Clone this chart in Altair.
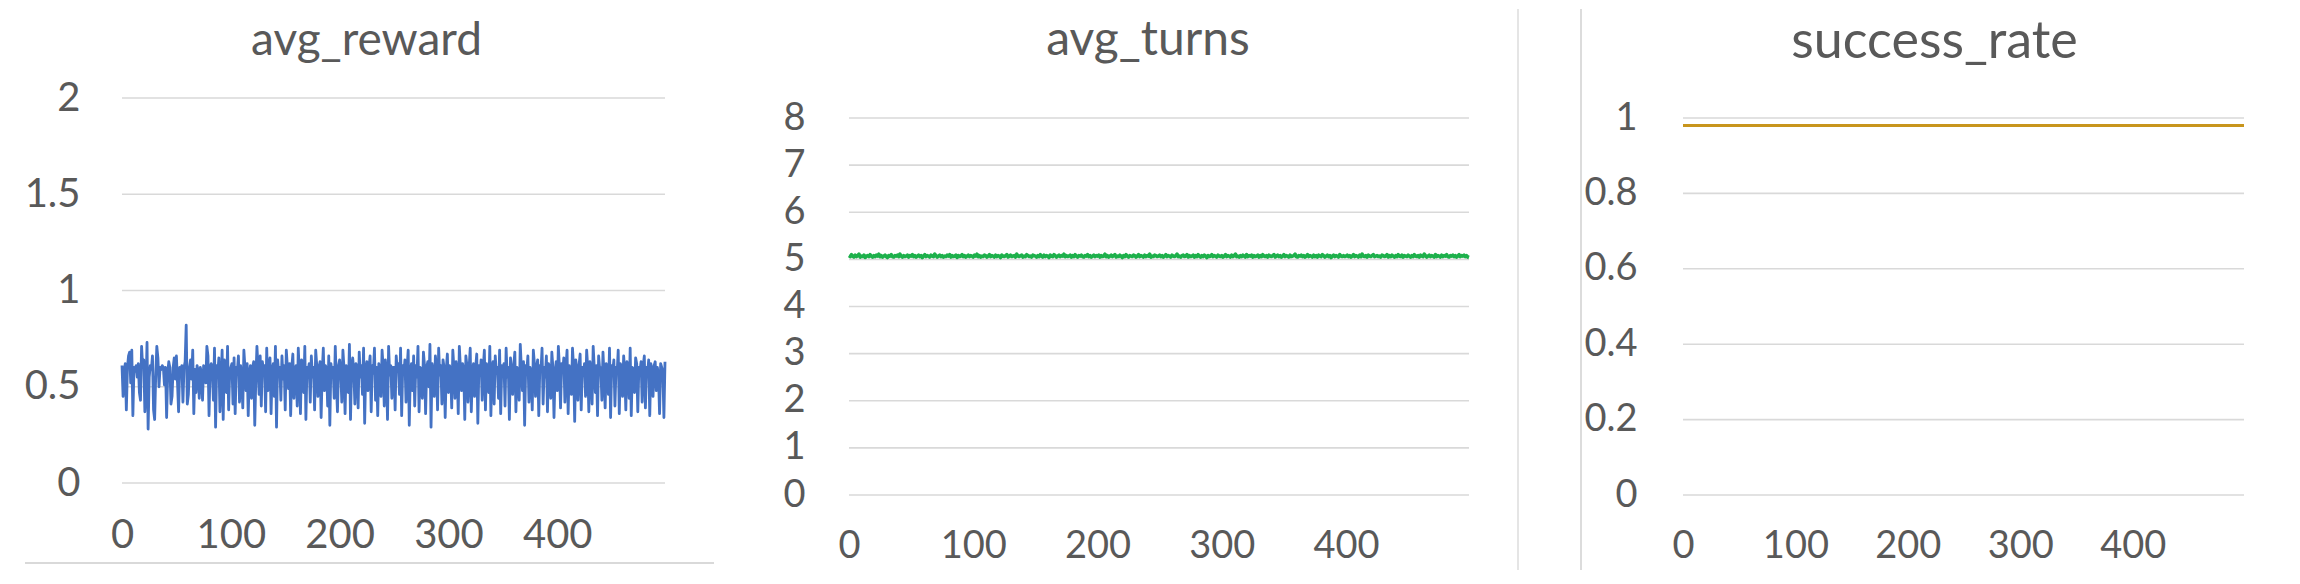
import altair as alt
import pandas as pd

# ---------------- data ----------------
avg_reward = [
    0.61,0.45,0.58,0.62,0.38,0.60,0.66,0.68,0.52,0.69,0.35,0.60,0.58,0.61,0.55,0.62,0.47,0.43,0.71,0.60,0.64,0.37,0.48,0.73,0.28,
    0.55,0.61,0.59,0.66,0.38,0.33,0.56,0.71,0.65,0.50,0.60,0.59,0.61,0.60,0.51,0.60,0.34,0.57,0.63,0.60,0.41,0.45,0.60,0.65,0.54,
    0.66,0.52,0.37,0.60,0.58,0.61,0.42,0.60,0.63,0.82,0.41,0.46,0.60,0.64,0.54,0.69,0.36,0.59,0.47,0.61,0.58,0.44,0.60,0.57,0.43,
    0.61,0.60,0.52,0.71,0.66,0.35,0.60,0.62,0.58,0.43,0.70,0.29,0.61,0.56,0.65,0.37,0.52,0.69,0.33,0.64,0.60,0.47,0.71,0.38,0.58,
    0.60,0.62,0.41,0.65,0.36,0.60,0.58,0.66,0.42,0.61,0.55,0.39,0.69,0.60,0.48,0.62,0.35,0.57,0.61,0.44,0.60,0.63,0.30,0.54,0.71,
    0.60,0.46,0.66,0.40,0.63,0.58,0.61,0.37,0.70,0.48,0.60,0.65,0.36,0.59,0.62,0.45,0.71,0.29,0.64,0.57,0.60,0.43,0.66,0.54,0.61,
    0.38,0.69,0.60,0.49,0.62,0.35,0.60,0.67,0.44,0.58,0.61,0.40,0.70,0.56,0.36,0.64,0.60,0.47,0.71,0.33,0.60,0.58,0.62,0.42,0.66,
    0.55,0.60,0.38,0.69,0.61,0.45,0.60,0.63,0.34,0.58,0.70,0.48,0.61,0.59,0.40,0.66,0.30,0.62,0.57,0.60,0.44,0.71,0.52,0.37,0.61,
    0.64,0.58,0.42,0.69,0.60,0.36,0.61,0.56,0.47,0.72,0.33,0.60,0.65,0.58,0.41,0.62,0.60,0.39,0.68,0.55,0.61,0.46,0.70,0.31,0.59,
    0.63,0.48,0.60,0.66,0.37,0.61,0.57,0.70,0.43,0.60,0.35,0.62,0.59,0.45,0.69,0.60,0.40,0.64,0.58,0.33,0.71,0.56,0.61,0.44,0.60,
    0.60,0.38,0.66,0.58,0.62,0.46,0.70,0.35,0.61,0.57,0.64,0.42,0.60,0.69,0.30,0.58,0.62,0.48,0.66,0.40,0.61,0.55,0.71,0.37,0.60,
    0.59,0.44,0.68,0.61,0.36,0.60,0.63,0.50,0.72,0.29,0.62,0.58,0.45,0.66,0.60,0.38,0.70,0.56,0.61,0.41,0.64,0.60,0.34,0.59,0.67,
    0.47,0.61,0.58,0.39,0.69,0.60,0.44,0.63,0.57,0.36,0.71,0.60,0.48,0.62,0.59,0.33,0.66,0.61,0.42,0.60,0.70,0.37,0.58,0.62,0.45,
    0.60,0.67,0.31,0.61,0.56,0.64,0.43,0.60,0.69,0.38,0.62,0.58,0.47,0.71,0.35,0.60,0.63,0.41,0.66,0.57,0.60,0.44,0.69,0.36,0.61,
    0.58,0.62,0.40,0.70,0.55,0.60,0.33,0.65,0.59,0.46,0.61,0.68,0.37,0.60,0.57,0.43,0.72,0.60,0.48,0.63,0.30,0.61,0.58,0.66,0.42,
    0.60,0.57,0.38,0.69,0.62,0.45,0.60,0.64,0.35,0.61,0.58,0.70,0.41,0.60,0.55,0.66,0.37,0.62,0.59,0.44,0.68,0.60,0.34,0.57,0.63,
    0.48,0.71,0.60,0.39,0.62,0.58,0.65,0.42,0.60,0.69,0.36,0.61,0.57,0.46,0.70,0.60,0.32,0.64,0.59,0.43,0.61,0.67,0.38,0.60,0.56,
    0.62,0.45,0.69,0.60,0.37,0.63,0.58,0.41,0.71,0.60,0.47,0.61,0.35,0.66,0.59,0.60,0.43,0.68,0.56,0.39,0.62,0.60,0.46,0.70,0.34,
    0.61,0.58,0.64,0.40,0.60,0.57,0.69,0.36,0.62,0.60,0.45,0.66,0.58,0.38,0.63,0.61,0.44,0.70,0.35,0.60,0.59,0.47,0.65,0.62,0.37,
    0.60,0.58,0.63,0.42,0.61,0.66,0.39,0.60,0.57,0.64,0.35,0.62,0.59,0.45,0.61,0.63,0.48,0.60,0.56,0.36,0.62,0.60,0.58,0.34,0.63,
]

avg_turns = [
    5.08,5.06,5.10,5.07,5.05,5.09,5.06,5.08,5.11,5.05,5.07,5.06,5.09,5.04,5.07,5.08,5.06,5.10,5.07,5.05,5.08,5.06,5.09,5.07,5.11,
    5.06,5.08,5.05,5.07,5.09,5.06,5.04,5.08,5.07,5.10,5.06,5.05,5.08,5.07,5.09,5.06,5.11,5.07,5.05,5.08,5.06,5.07,5.09,5.05,5.08,
    5.07,5.10,5.06,5.08,5.05,5.07,5.09,5.06,5.08,5.04,5.07,5.10,5.06,5.08,5.07,5.05,5.09,5.07,5.06,5.11,5.08,5.05,5.07,5.09,5.06,
    5.08,5.05,5.07,5.06,5.09,5.07,5.10,5.05,5.08,5.06,5.07,5.09,5.04,5.08,5.06,5.07,5.10,5.06,5.08,5.05,5.07,5.09,5.06,5.08,5.07,
    5.05,5.09,5.07,5.11,5.06,5.08,5.05,5.07,5.06,5.09,5.08,5.05,5.07,5.10,5.06,5.08,5.07,5.05,5.09,5.06,5.08,5.07,5.04,5.09,5.07,
    5.06,5.08,5.10,5.05,5.07,5.09,5.06,5.07,5.08,5.05,5.11,5.07,5.06,5.08,5.09,5.05,5.07,5.06,5.10,5.08,5.06,5.07,5.05,5.09,5.08,
    5.07,5.05,5.08,5.06,5.10,5.07,5.05,5.09,5.06,5.08,5.07,5.04,5.09,5.07,5.06,5.10,5.08,5.05,5.07,5.09,5.06,5.08,5.07,5.11,5.06,
    5.08,5.06,5.07,5.09,5.05,5.08,5.06,5.10,5.07,5.05,5.08,5.07,5.09,5.06,5.05,5.08,5.07,5.10,5.06,5.08,5.05,5.07,5.09,5.06,5.08,
    5.07,5.09,5.05,5.08,5.06,5.07,5.11,5.06,5.08,5.05,5.07,5.09,5.06,5.08,5.10,5.05,5.07,5.06,5.09,5.07,5.04,5.08,5.06,5.10,5.07,
    5.05,5.08,5.07,5.06,5.09,5.08,5.05,5.07,5.10,5.06,5.08,5.07,5.05,5.09,5.06,5.08,5.07,5.11,5.05,5.07,5.06,5.09,5.08,5.06,5.07,
    5.09,5.06,5.08,5.05,5.07,5.10,5.06,5.08,5.07,5.05,5.09,5.07,5.06,5.08,5.11,5.06,5.07,5.05,5.08,5.09,5.06,5.07,5.10,5.05,5.08,
    5.06,5.07,5.09,5.05,5.08,5.06,5.10,5.07,5.05,5.08,5.06,5.09,5.07,5.04,5.08,5.06,5.07,5.10,5.06,5.08,5.07,5.05,5.09,5.07,5.06,
    5.08,5.05,5.07,5.10,5.06,5.08,5.07,5.05,5.09,5.06,5.08,5.11,5.06,5.07,5.05,5.08,5.06,5.09,5.07,5.05,5.10,5.06,5.08,5.07,5.09,
    5.05,5.08,5.06,5.07,5.09,5.05,5.08,5.06,5.10,5.07,5.06,5.08,5.05,5.09,5.07,5.06,5.08,5.10,5.05,5.07,5.09,5.06,5.08,5.05,5.07,
    5.10,5.06,5.08,5.07,5.05,5.09,5.06,5.07,5.08,5.11,5.06,5.05,5.08,5.07,5.09,5.06,5.08,5.05,5.07,5.10,5.06,5.08,5.07,5.05,5.09,
    5.06,5.08,5.05,5.09,5.07,5.06,5.10,5.08,5.05,5.07,5.09,5.06,5.08,5.04,5.07,5.09,5.06,5.08,5.07,5.05,5.10,5.07,5.06,5.08,5.06,
    5.07,5.09,5.06,5.08,5.05,5.07,5.10,5.06,5.08,5.07,5.05,5.09,5.06,5.11,5.07,5.06,5.08,5.05,5.09,5.07,5.06,5.08,5.10,5.06,5.07,
    5.08,5.06,5.07,5.05,5.09,5.08,5.06,5.07,5.10,5.05,5.08,5.06,5.09,5.07,5.05,5.08,5.06,5.10,5.07,5.06,5.09,5.05,5.08,5.07,5.06,
    5.09,5.07,5.05,5.08,5.06,5.10,5.07,5.06,5.08,5.05,5.09,5.07,5.06,5.11,5.08,5.05,5.07,5.09,5.06,5.08,5.07,5.05,5.10,5.06,5.08,
    5.07,5.05,5.09,5.06,5.08,5.07,5.10,5.06,5.05,5.08,5.07,5.09,5.06,5.08,5.05,5.07,5.10,5.06,5.08,5.07,5.09,5.06,5.08,5.05,5.04,
]

success_rate = [
    0.98,0.98,0.98,0.98,0.98,0.98,0.98,0.98,0.98,0.98,0.98,0.98,0.98,0.98,0.98,0.98,0.98,0.98,0.98,0.98,0.98,0.98,0.98,0.98,0.98,
    0.98,0.98,0.98,0.98,0.98,0.98,0.98,0.98,0.98,0.98,0.98,0.98,0.98,0.98,0.98,0.98,0.98,0.98,0.98,0.98,0.98,0.98,0.98,0.98,0.98,
    0.98,0.98,0.98,0.98,0.98,0.98,0.98,0.98,0.98,0.98,0.98,0.98,0.98,0.98,0.98,0.98,0.98,0.98,0.98,0.98,0.98,0.98,0.98,0.98,0.98,
    0.98,0.98,0.98,0.98,0.98,0.98,0.98,0.98,0.98,0.98,0.98,0.98,0.98,0.98,0.98,0.98,0.98,0.98,0.98,0.98,0.98,0.98,0.98,0.98,0.98,
    0.98,0.98,0.98,0.98,0.98,0.98,0.98,0.98,0.98,0.98,0.98,0.98,0.98,0.98,0.98,0.98,0.98,0.98,0.98,0.98,0.98,0.98,0.98,0.98,0.98,
    0.98,0.98,0.98,0.98,0.98,0.98,0.98,0.98,0.98,0.98,0.98,0.98,0.98,0.98,0.98,0.98,0.98,0.98,0.98,0.98,0.98,0.98,0.98,0.98,0.98,
    0.98,0.98,0.98,0.98,0.98,0.98,0.98,0.98,0.98,0.98,0.98,0.98,0.98,0.98,0.98,0.98,0.98,0.98,0.98,0.98,0.98,0.98,0.98,0.98,0.98,
    0.98,0.98,0.98,0.98,0.98,0.98,0.98,0.98,0.98,0.98,0.98,0.98,0.98,0.98,0.98,0.98,0.98,0.98,0.98,0.98,0.98,0.98,0.98,0.98,0.98,
    0.98,0.98,0.98,0.98,0.98,0.98,0.98,0.98,0.98,0.98,0.98,0.98,0.98,0.98,0.98,0.98,0.98,0.98,0.98,0.98,0.98,0.98,0.98,0.98,0.98,
    0.98,0.98,0.98,0.98,0.98,0.98,0.98,0.98,0.98,0.98,0.98,0.98,0.98,0.98,0.98,0.98,0.98,0.98,0.98,0.98,0.98,0.98,0.98,0.98,0.98,
    0.98,0.98,0.98,0.98,0.98,0.98,0.98,0.98,0.98,0.98,0.98,0.98,0.98,0.98,0.98,0.98,0.98,0.98,0.98,0.98,0.98,0.98,0.98,0.98,0.98,
    0.98,0.98,0.98,0.98,0.98,0.98,0.98,0.98,0.98,0.98,0.98,0.98,0.98,0.98,0.98,0.98,0.98,0.98,0.98,0.98,0.98,0.98,0.98,0.98,0.98,
    0.98,0.98,0.98,0.98,0.98,0.98,0.98,0.98,0.98,0.98,0.98,0.98,0.98,0.98,0.98,0.98,0.98,0.98,0.98,0.98,0.98,0.98,0.98,0.98,0.98,
    0.98,0.98,0.98,0.98,0.98,0.98,0.98,0.98,0.98,0.98,0.98,0.98,0.98,0.98,0.98,0.98,0.98,0.98,0.98,0.98,0.98,0.98,0.98,0.98,0.98,
    0.98,0.98,0.98,0.98,0.98,0.98,0.98,0.98,0.98,0.98,0.98,0.98,0.98,0.98,0.98,0.98,0.98,0.98,0.98,0.98,0.98,0.98,0.98,0.98,0.98,
    0.98,0.98,0.98,0.98,0.98,0.98,0.98,0.98,0.98,0.98,0.98,0.98,0.98,0.98,0.98,0.98,0.98,0.98,0.98,0.98,0.98,0.98,0.98,0.98,0.98,
    0.98,0.98,0.98,0.98,0.98,0.98,0.98,0.98,0.98,0.98,0.98,0.98,0.98,0.98,0.98,0.98,0.98,0.98,0.98,0.98,0.98,0.98,0.98,0.98,0.98,
    0.98,0.98,0.98,0.98,0.98,0.98,0.98,0.98,0.98,0.98,0.98,0.98,0.98,0.98,0.98,0.98,0.98,0.98,0.98,0.98,0.98,0.98,0.98,0.98,0.98,
    0.98,0.98,0.98,0.98,0.98,0.98,0.98,0.98,0.98,0.98,0.98,0.98,0.98,0.98,0.98,0.98,0.98,0.98,0.98,0.98,0.98,0.98,0.98,0.98,0.98,
    0.98,0.98,0.98,0.98,0.98,0.98,0.98,0.98,0.98,0.98,0.98,0.98,0.98,0.98,0.98,0.98,0.98,0.98,0.98,0.98,0.98,0.98,0.98,0.98,0.98,
]

reward_ticks = [0, 0.5, 1, 1.5, 2]
turns_ticks = [0, 1, 2, 3, 4, 5, 6, 7, 8]
success_ticks = [0, 0.2, 0.4, 0.6, 0.8, 1]
x_ticks = [0, 100, 200, 300, 400]

FONT = "Lato"
TEXT = "#595959"
GRID = "#D9D9D9"
H = 397


def panel(values, name, color, ticks, ydom, yrange, xrange, cell_w, lw,
          tick_fs, y_pad, x_pad, title_fs, title_dx, title_offset, title_dy,
          extras=()):
    df = pd.DataFrame({"step": list(range(len(values))), "value": values})
    gdf = pd.DataFrame({"v": ticks})
    xs = alt.Scale(domain=[0, 499], range=xrange, nice=False, zero=False)
    ys = alt.Scale(domain=ydom, range=yrange, nice=False, zero=False)
    xaxis = alt.Axis(values=x_ticks, title=None, grid=False, domain=False,
                     ticks=False, tickSize=0, labelFontSize=tick_fs,
                     labelFont=FONT, labelColor=TEXT, labelPadding=x_pad,
                     labelFlush=False, labelOverlap=False, format="d")
    yaxis = alt.Axis(values=ticks, title=None, grid=False, domain=False,
                     ticks=False, tickSize=0, labelFontSize=tick_fs,
                     labelFont=FONT, labelColor=TEXT, labelPadding=y_pad,
                     labelFlush=False, labelOverlap=False, format="~g")
    grid = alt.Chart(gdf).mark_rule(color=GRID, strokeWidth=1.6).encode(
        y=alt.Y("v:Q", scale=ys, axis=yaxis),
        x=alt.X(datum=0, type="quantitative", scale=xs, axis=xaxis),
        x2=alt.X2(datum=499),
    )
    line = alt.Chart(df).mark_line(color=color, strokeWidth=lw,
                                   strokeJoin="round").encode(
        x=alt.X("step:Q", scale=xs, axis=xaxis),
        y=alt.Y("value:Q", scale=ys, axis=yaxis),
    )
    layers = [grid, line] + list(extras)
    return alt.layer(*layers).properties(
        width=cell_w, height=H,
        title=alt.TitleParams(text=name, font=FONT, fontSize=title_fs,
                              fontWeight="normal", color=TEXT,
                              anchor="middle", frame="group",
                              dx=title_dx, dy=title_dy, offset=title_offset),
    )


one = pd.DataFrame({"k": [0]})
# frame lines of the sheet around the charts
bottom_frame = alt.Chart(one).mark_rule(color="#D9D9D9", strokeWidth=2).encode(
    x=alt.value(-97), x2=alt.value(592), y=alt.value(465))
sep_a = alt.Chart(one).mark_rule(color="#DCDCDC", strokeWidth=1.5).encode(
    x=alt.value(669), y=alt.value(-89), y2=alt.value(472))
sep_b = alt.Chart(one).mark_rule(color="#D0D0D0", strokeWidth=1.5).encode(
    x=alt.value(732), y=alt.value(-89), y2=alt.value(472))

p1 = panel(avg_reward, "avg_reward", "#4472C4", reward_ticks, [0, 2],
           [385, 0], [0, 543], 727, 2.8, 40, 42, 20, 46, -119, 43, 30,
           extras=[bottom_frame])
p2 = panel(avg_turns, "avg_turns", "#1DB04B", turns_ticks, [0, 8],
           [397, 20], [0, 620], 834, 3.6, 38, 44, 32, 48, -118, 35, 92,
           extras=[sep_a, sep_b])
p3 = panel(success_rate, "success_rate", "#C8951C", success_ticks, [0, 1],
           [397, 20], [0, 561], 561, 3, 38, 46, 32, 52, -29, 35, 6)

chart = alt.hconcat(p1, p2, p3, spacing=0, bounds="flush").properties(
    padding={"left": 16, "top": 0, "right": 0, "bottom": 0},
    background="white",
).configure_view(stroke=None)

chart.save("out.html", embed_options={"renderer": "svg", "actions": False})
